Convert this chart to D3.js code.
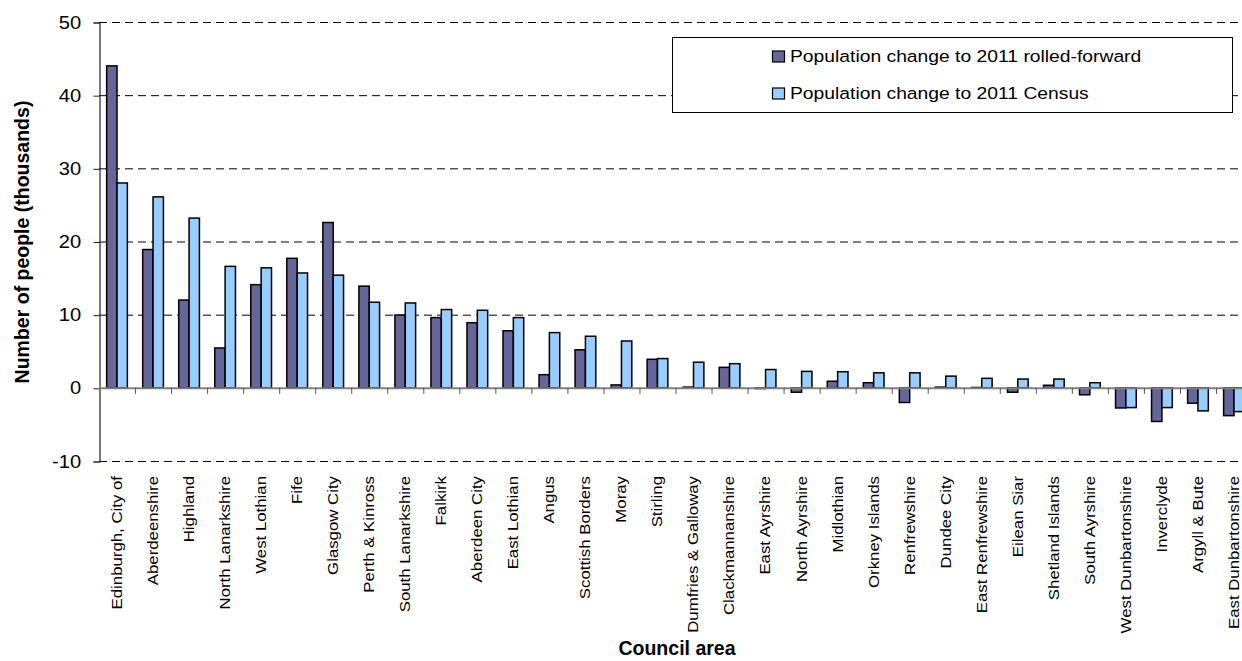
<!DOCTYPE html>
<html>
<head>
<meta charset="utf-8">
<script src="https://cdn.jsdelivr.net/npm/d3@7/dist/d3.min.js"></script>
<style>
  body { margin: 0; background: #ffffff; overflow: hidden; }
  svg { display: block; font-family: Arial, "Liberation Sans", sans-serif; }
</style>
</head>
<body>
<div id="chart"></div>
<script>
/* Chart data (thousands of people) */
var councils = ["Edinburgh, City of", "Aberdeenshire", "Highland", "North Lanarkshire",
    "West Lothian", "Fife", "Glasgow City", "Perth & Kinross", "South Lanarkshire",
    "Falkirk", "Aberdeen City", "East Lothian", "Angus", "Scottish Borders", "Moray",
    "Stirling", "Dumfries & Galloway", "Clackmannanshire", "East Ayrshire",
    "North Ayrshire", "Midlothian", "Orkney Islands", "Renfrewshire", "Dundee City",
    "East Renfrewshire", "Eilean Siar", "Shetland Islands", "South Ayrshire",
    "West Dunbartonshire", "Inverclyde", "Argyll & Bute", "East Dunbartonshire"];

var rolledForward = [44.0, 18.9, 12.0, 5.45, 14.1, 17.7, 22.6, 13.9, 9.95,
    9.6, 8.9, 7.8, 1.8, 5.2, 0.4, 3.9, 0.1, 2.8, -0.1,
    -0.6, 0.9, 0.7, -2.0, 0.1, 0.05, -0.6, 0.35, -0.95,
    -2.75, -4.6, -2.1, -3.8];

var census = [28.0, 26.1, 23.2, 16.6, 16.4, 15.7, 15.4, 11.7, 11.6,
    10.7, 10.6, 9.6, 7.55, 7.05, 6.4, 4.0, 3.5, 3.3, 2.5,
    2.25, 2.2, 2.05, 2.05, 1.6, 1.3, 1.2, 1.2, 0.7,
    -2.7, -2.7, -3.15, -3.25];

var seriesNames = ["Population change to 2011 rolled-forward", "Population change to 2011 Census"];
var seriesColors = ["#666699", "#99ccff"];
var yTicks = [-10, 0, 10, 20, 30, 40, 50];

/* Canvas size */
var width = 1242,
    height = 661;

var svg = d3.select("#chart")
    .append("svg")
    .attr("width", width)
    .attr("height", height);

/* Scales */
var x = d3.scaleBand()
    .domain(councils)
    .range([99, 1252])
    .padding(0);

var y = d3.scaleLinear()
    .domain([-10, 50])
    .range([461, 22]);

var groupWidth = x.bandwidth() * 0.575;
var barWidth = groupWidth / 2;

/* Dashed gridlines (zero line is drawn as the category axis) */
svg.append("g")
    .selectAll("line")
    .data(yTicks.filter(function (d) { return d !== 0; }))
    .enter().append("line")
    .attr("x1", 99)
    .attr("x2", width)
    .attr("y1", function (d) { return y(d) + 0.5; })
    .attr("y2", function (d) { return y(d) + 0.5; })
    .attr("stroke", "#000")
    .attr("stroke-width", 1)
    .attr("stroke-dasharray", "8,5");

/* Y axis */
var yAxis = d3.axisLeft(y)
    .tickValues(yTicks)
    .tickSize(6)
    .tickPadding(10)
    .tickFormat(function (d) { return String(d); });

var yG = svg.append("g")
    .attr("transform", "translate(99.5,0.5)")
    .call(yAxis);

yG.select(".domain").attr("stroke", "#222").attr("stroke-width", 1.2);
yG.selectAll(".tick line").attr("stroke", "#222");
yG.selectAll(".tick text")
    .attr("font-size", "17.5px")
    .attr("fill", "#000")
    .attr("font-family", "Arial, 'Liberation Sans', sans-serif")
    .attr("transform", function () {
        /* the picture's digits are a little wider than tall */
        return "translate(-83,0) scale(1.15,1) translate(72.2,0)";
    });

/* Bars */
var series = [rolledForward, census];

series.forEach(function (vals, s) {
    svg.append("g")
        .selectAll("rect")
        .data(vals)
        .enter().append("rect")
        .attr("x", function (d, i) {
            return x(councils[i]) + (x.bandwidth() - groupWidth) / 2 + s * barWidth;
        })
        .attr("y", function (d) { return y(Math.max(0, d)); })
        .attr("width", barWidth)
        .attr("height", function (d) { return Math.abs(y(d) - y(0)); })
        .attr("fill", seriesColors[s])
        .attr("stroke", "#000")
        .attr("stroke-width", 1.5);
});

/* Category axis at zero */
var xAxis = d3.axisBottom(x)
    .tickSize(0)
    .tickFormat("");

var xG = svg.append("g")
    .attr("transform", "translate(0," + y(0) + ")")
    .call(xAxis);

xG.select(".domain").attr("stroke", "#808080").attr("stroke-width", 2);

/* tick marks between categories */
svg.append("g")
    .selectAll("line")
    .data(councils.slice(1))
    .enter().append("line")
    .attr("x1", function (d) { return x(d) + 0.5; })
    .attr("x2", function (d) { return x(d) + 0.5; })
    .attr("y1", y(0))
    .attr("y2", y(0) + 6)
    .attr("stroke", "#555")
    .attr("stroke-width", 1);

/* Category labels, rotated; narrow glyphs stretched along the text */
svg.append("g")
    .selectAll("text")
    .data(councils)
    .enter().append("text")
    .attr("transform", function (d) {
        return "translate(" + (x(d) + x.bandwidth() / 2) + ",476) rotate(-90) scale(1.2,1)";
    })
    .attr("text-anchor", "end")
    .attr("dy", "0.35em")
    .attr("font-size", "14px")
    .attr("fill", "#000")
    .text(function (d) { return d; });

/* Axis titles */
svg.append("text")
    .attr("x", 677)
    .attr("y", 655)
    .attr("text-anchor", "middle")
    .attr("font-size", "19.5px")
    .attr("font-weight", "bold")
    .text("Council area");

svg.append("text")
    .attr("transform", "translate(22,242) rotate(-90)")
    .attr("text-anchor", "middle")
    .attr("dy", "0.35em")
    .attr("font-size", "19.5px")
    .attr("font-weight", "bold")
    .text("Number of people (thousands)");

/* Legend */
var legend = svg.append("g");

legend.append("rect")
    .attr("x", 672.5)
    .attr("y", 37.5)
    .attr("width", 560)
    .attr("height", 75)
    .attr("fill", "#fff")
    .attr("stroke", "#000")
    .attr("stroke-width", 1);

var legendRows = legend.selectAll(".legend-row")
    .data(seriesNames)
    .enter().append("g")
    .attr("class", "legend-row")
    .attr("transform", function (d, i) { return "translate(772," + (56.5 + i * 37) + ")"; });

legendRows.append("rect")
    .attr("x", 0.5)
    .attr("y", -5.5)
    .attr("width", 12)
    .attr("height", 11)
    .attr("fill", function (d, i) { return seriesColors[i]; })
    .attr("stroke", "#000")
    .attr("stroke-width", 1.2);

legendRows.append("text")
    .attr("transform", "translate(18,0) scale(1.17,1)")
    .attr("dy", "0.35em")
    .attr("font-size", "16.5px")
    .attr("fill", "#000")
    .text(function (d) { return d; });
</script>
</body>
</html>
